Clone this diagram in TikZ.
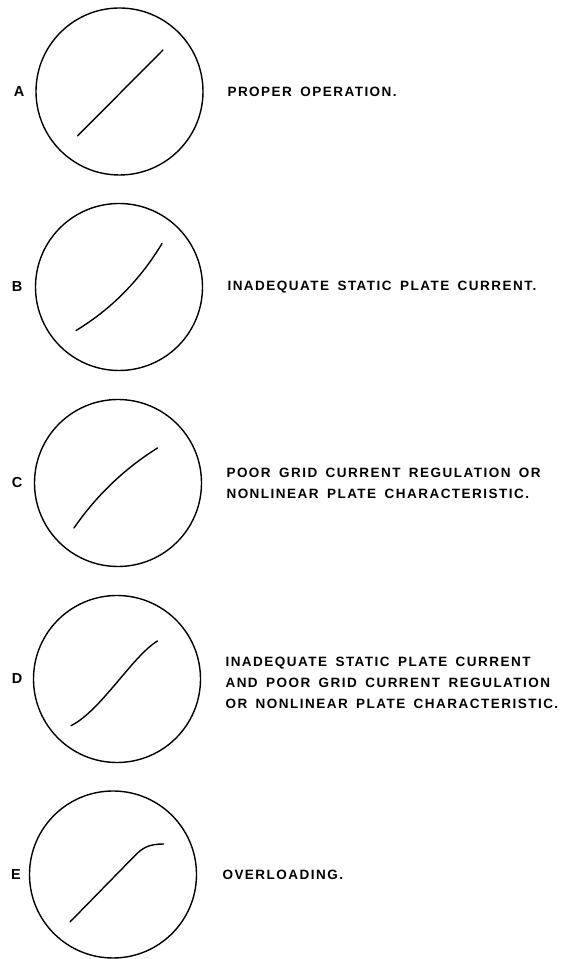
\documentclass[tikz,border=0pt]{standalone}
\usepackage{fontspec}
\setmainfont{Liberation Sans}[LetterSpace=11,WordSpace=1.6]
\usetikzlibrary{positioning}

\begin{document}
\begin{tikzpicture}[x=1pt,y=1pt,
    screen/.style={draw,circle,line width=1.4pt,minimum size=167pt,inner sep=0pt},
    trace/.style={line width=1.4pt,line cap=round},
    tag/.style={font=\fontsize{14.5}{16}\selectfont\bfseries},
    note/.style={anchor=west,align=left,font=\fontsize{13.5}{21}\selectfont\bfseries}]
    \useasboundingbox (0,0) rectangle (566,959);

    \node[screen] (scA) at (119.5,867.5) {};
    \node[screen] (scB) at (119,672) {};
    \node[screen] (scC) at (118,476) {};
    \node[screen] (scD) at (117,280) {};
    \node[screen] (scE) at (113,84.5) {};

    \node[tag] (labA) at (19,867.5) {A};
    \node[tag] (labB) at (17,672) {B};
    \node[tag] (labC) at (17,476) {C};
    \node[tag] (labD) at (17,280) {D};
    \node[tag] (labE) at (16,84.5) {E};

    \node[note] (txtA) at (224,867.5) {PROPER OPERATION.};
    \node[note] (txtB) at (224,672) {INADEQUATE STATIC PLATE CURRENT.};
    \node[note] (txtC) at (223,476) {POOR GRID CURRENT REGULATION OR\\NONLINEAR PLATE CHARACTERISTIC.};
    \node[note] (txtD) at (222,276) {INADEQUATE STATIC PLATE CURRENT\\AND POOR GRID CURRENT REGULATION\\OR NONLINEAR PLATE CHARACTERISTIC.};
    \node[note] (txtE) at (219,84.5) {OVERLOADING.};

    % traces on the screens
    \draw[trace,shift={(scA.center)}] (-42,-44.5) -- (43.5,41.5);
    \draw[trace,shift={(scB.center)}] (-43,-43.5) .. controls (-7.5,-22.2) and (21.7,8) .. (43,43.5);
    \draw[trace,shift={(scC.center)}] (-44,-45) .. controls (-22,-13) and (6.5,14.4) .. (39.5,35);
    \draw[trace,shift={(scD.center)}] (-46,-46.7) .. controls (-16,-31.7) and (15.5,23) .. (40.5,38);
    \draw[trace,shift={(scE.center)}] (-43,-47.5) -- (22,19) .. controls (30,27) and (36,30.5) .. (50.7,30.5);
\end{tikzpicture}
\end{document}
